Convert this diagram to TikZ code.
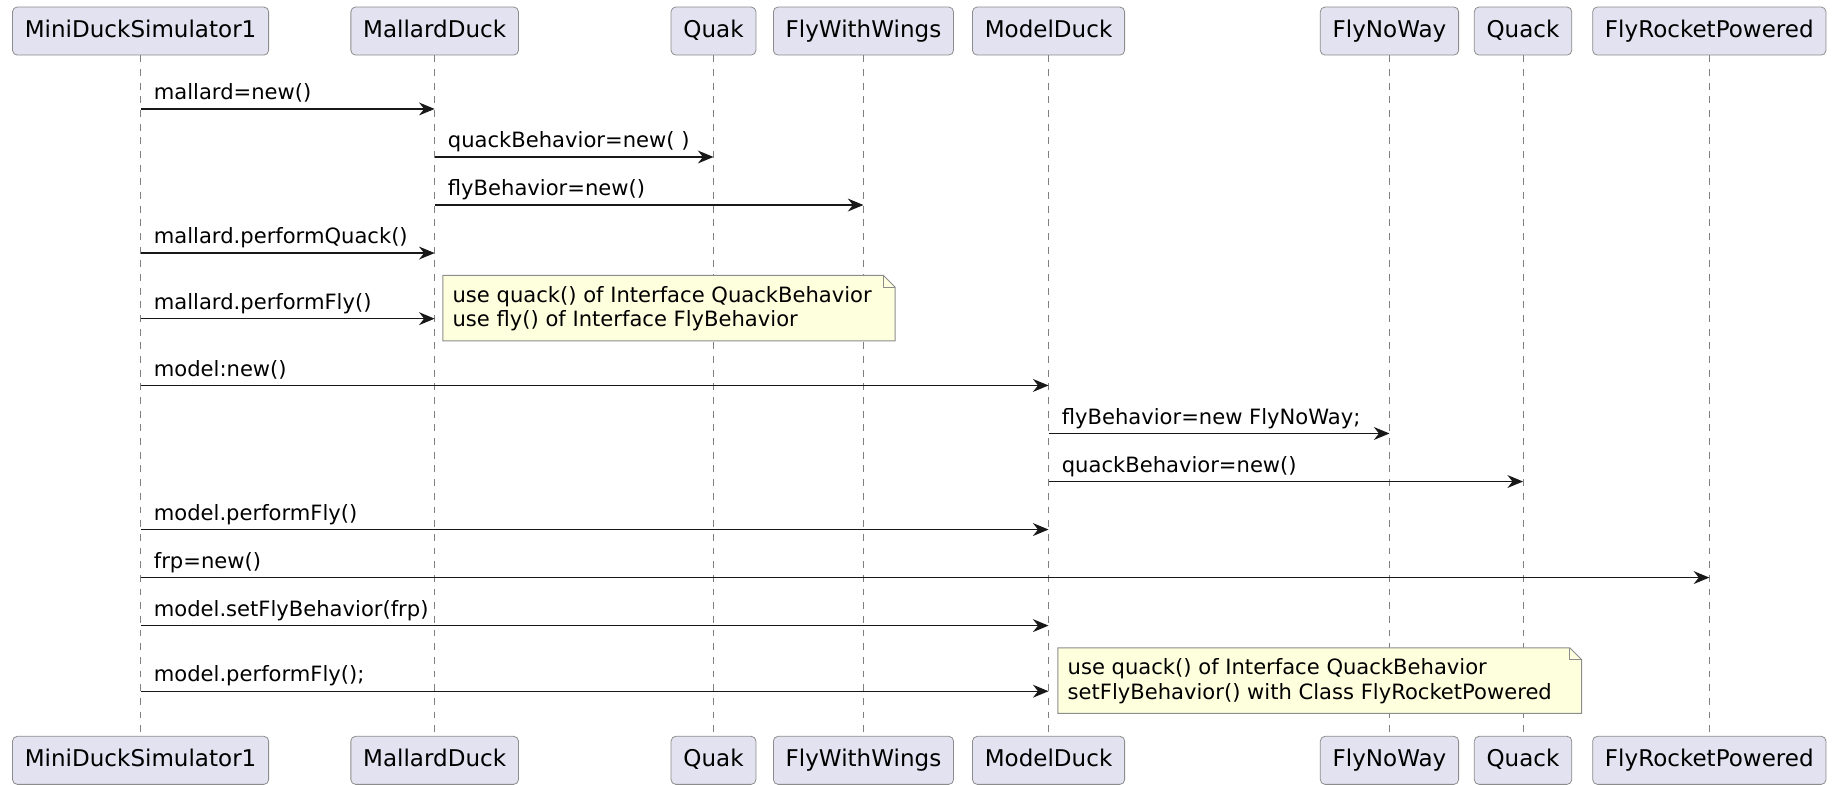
\documentclass[tikz,border=0pt]{standalone}
\usepackage{fontspec}
\setmainfont{DejaVu Sans}
\usetikzlibrary{arrows.meta}
\definecolor{pFill}{HTML}{E2E2F0}
\definecolor{pLine}{HTML}{8C8C8C}
\definecolor{nFill}{HTML}{FEFFDD}
\definecolor{aLine}{HTML}{181818}
\tikzset{
    actor/.style={draw=pLine, fill=pFill, rounded corners=2.4pt, minimum height=24.6pt,
        inner xsep=6.3pt, inner ysep=0pt, text height=0.82em, text depth=0.14em,
        font=\fontsize{11.8}{14}\selectfont},
    life/.style={draw=gray, line width=0.5pt, dash pattern=on 3.5pt off 3.5pt},
    msg/.style={draw=aLine, line width=0.7pt, -{Stealth[length=8pt,width=6.6pt,inset=2.6pt]}},
    lbl/.style={anchor=base west, inner sep=0pt, font=\fontsize{10.8}{13}\selectfont},
    note/.style={draw=pLine, fill=nFill, line width=0.5pt},
    notetxt/.style={anchor=west, align=left, inner sep=0pt, font=\fontsize{10.8}{12.6}\selectfont}
}

\begin{document}
\begin{tikzpicture}[x=0.6pt,y=-0.6pt]
\useasboundingbox (0,0) rectangle (1568,670);
% participants, top and bottom, with lifelines
\foreach \name/\txt/\x in {mds/MiniDuckSimulator1/120, mal/MallardDuck/371, quak/Quak/609,
    fww/FlyWithWings/737, model/ModelDuck/895, fnw/FlyNoWay/1186, quack/Quack/1300,
    frp/FlyRocketPowered/1459} {
  \node[actor] (\name T) at (\x,26.5) {\txt};
  \node[actor] (\name B) at (\x,649) {\txt};
  \draw[life] (\name T) -- (\name B);
}
% messages
\foreach \src/\dst/\y/\txt [count=\i] in {mds/mal/93/mallard=new(),
    mal/quak/134/quackBehavior=new( ), mal/fww/175/flyBehavior=new(),
    mds/mal/216/mallard.performQuack(), mds/mal/272/mallard.performFly(),
    mds/model/329/model:new(), model/fnw/370/flyBehavior=new FlyNoWay;,
    model/quack/411/quackBehavior=new(), mds/model/452/model.performFly(),
    mds/frp/493/frp=new(), mds/model/534/model.setFlyBehavior(frp),
    mds/model/590/model.performFly();} {
  \draw[msg] (\src T |- 0,\y) -- (\dst T |- 0,\y);
  \path (\src T |- 0,\y) ++(11,-8) node[lbl] (m\i) {\txt};
}
% notes
\filldraw[note] (378,235) -- (754,235) -- (764,245) -- (764,291) -- (378,291) -- cycle;
\draw[note,fill=none] (754,235) -- (754,245) -- (764,245);
\node[notetxt] (n1) at (386,263.5) {use quack() of Interface QuackBehavior\\use fly() of Interface FlyBehavior};
\filldraw[note] (903,553) -- (1340,553) -- (1350,563) -- (1350,609) -- (903,609) -- cycle;
\draw[note,fill=none] (1340,553) -- (1340,563) -- (1350,563);
\node[notetxt] (n2) at (911,581.5) {use quack() of Interface QuackBehavior\\setFlyBehavior() with Class FlyRocketPowered};
\end{tikzpicture}
\end{document}
